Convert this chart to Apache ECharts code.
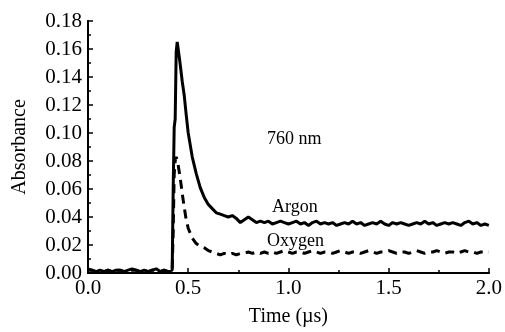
<!DOCTYPE html>
<html>
<head>
<meta charset="utf-8">
<script src="https://cdn.jsdelivr.net/npm/echarts@6/dist/echarts.min.js"></script>
<style>
  html, body { margin: 0; padding: 0; background: #fff; }
  #chart { width: 505px; height: 332px; }
</style>
</head>
<body>
<div id="chart"></div>
<script>
// time in microseconds
const timeUs = [
  0.00, 0.02, 0.04, 0.06, 0.08, 0.10, 0.12, 0.14, 0.16, 0.18, 0.20,
  0.22, 0.24, 0.26, 0.28, 0.30, 0.32, 0.34, 0.36, 0.38, 0.40, 0.42,
  0.425, 0.43, 0.435, 0.44, 0.445, 0.45,
  0.46, 0.47, 0.48, 0.49, 0.50,
  0.52, 0.54, 0.56, 0.58, 0.60, 0.62, 0.64, 0.66, 0.68, 0.70,
  0.72, 0.74, 0.76, 0.78, 0.80, 0.82, 0.84, 0.86, 0.88, 0.90,
  0.92, 0.94, 0.96, 0.98, 1.00,
  1.02, 1.04, 1.06, 1.08, 1.10, 1.12, 1.14, 1.16, 1.18, 1.20,
  1.22, 1.24, 1.26, 1.28, 1.30, 1.32, 1.34, 1.36, 1.38, 1.40,
  1.42, 1.44, 1.46, 1.48, 1.50, 1.52, 1.54, 1.56, 1.58, 1.60,
  1.62, 1.64, 1.66, 1.68, 1.70, 1.72, 1.74, 1.76, 1.78, 1.80,
  1.82, 1.84, 1.86, 1.88, 1.90, 1.92, 1.94, 1.96, 1.98, 2.00
]

const argon = [
  0.003, 0.002, 0.001, 0.002, 0.001, 0.002, 0.001, 0.002, 0.002, 0.001, 0.002,
  0.003, 0.002, 0.001, 0.002, 0.001, 0.002, 0.003, 0.001, 0.002, 0.001, 0.002,
  0.060, 0.104, 0.110, 0.158, 0.165, 0.160,
  0.149, 0.137, 0.127, 0.113, 0.100,
  0.083, 0.071, 0.061, 0.054, 0.049, 0.046, 0.043, 0.042, 0.041, 0.040,
  0.041, 0.039, 0.036, 0.038, 0.040, 0.038, 0.036, 0.037, 0.036, 0.037,
  0.035, 0.036, 0.037, 0.036, 0.035,
  0.036, 0.037, 0.035, 0.036, 0.034, 0.036, 0.037, 0.035, 0.036, 0.035,
  0.036, 0.034, 0.035, 0.036, 0.035, 0.037, 0.035, 0.036, 0.034, 0.035,
  0.036, 0.035, 0.037, 0.035, 0.034, 0.036, 0.035, 0.036, 0.035, 0.034,
  0.035, 0.036, 0.035, 0.037, 0.035, 0.036, 0.034, 0.035, 0.036, 0.035,
  0.036, 0.035, 0.034, 0.036, 0.037, 0.035, 0.036, 0.034, 0.035, 0.034
]

const oxygen = [
  0.002, 0.002, 0.001, 0.002, 0.001, 0.002, 0.001, 0.002, 0.002, 0.001, 0.002,
  0.002, 0.002, 0.001, 0.002, 0.001, 0.002, 0.002, 0.001, 0.002, 0.001, 0.002,
  0.030, 0.070, 0.080, 0.083, 0.082, 0.077,
  0.068, 0.057, 0.047, 0.038, 0.032,
  0.025, 0.021, 0.019, 0.018, 0.016, 0.015, 0.014, 0.013, 0.014, 0.013,
  0.014, 0.013, 0.014, 0.014, 0.015, 0.014, 0.015, 0.014, 0.015, 0.014,
  0.015, 0.014, 0.015, 0.016, 0.015,
  0.014, 0.015, 0.015, 0.014, 0.015, 0.016, 0.015, 0.014, 0.015, 0.015,
  0.014, 0.015, 0.016, 0.015, 0.014, 0.015, 0.015, 0.014, 0.015, 0.016,
  0.015, 0.014, 0.015, 0.015, 0.016, 0.015, 0.014, 0.015, 0.015, 0.014,
  0.015, 0.016, 0.015, 0.014, 0.015, 0.015, 0.016, 0.015, 0.014, 0.015,
  0.015, 0.014, 0.015, 0.016, 0.015, 0.015, 0.014, 0.015, 0.015, 0.015
]

const FONT = "'Liberation Serif', 'DejaVu Serif', serif"
const INK = '#000'

const pairs = (ys) => timeUs.map((t, i) => [t, ys[i]])

const chart = echarts.init(document.getElementById('chart'), null, { renderer: 'canvas' })

chart.setOption({
  animation: false,
  backgroundColor: '#fff',
  grid: { left: 88, right: 13, top: 21, bottom: 53 },
  xAxis: [
    {
      type: 'value',
      min: 0, max: 2, interval: 0.5,
      name: 'Time (\u00b5s)',
      nameLocation: 'middle',
      nameGap: 34,
      nameTextStyle: { fontFamily: FONT, fontSize: 20, color: INK },
      axisLine: { lineStyle: { color: INK, width: 2 } },
      axisTick: { inside: true, length: 5, lineStyle: { color: INK, width: 1.5 } },
      minorTick: { show: true, splitNumber: 2, length: 3, lineStyle: { color: INK, width: 1.5 } },
      axisLabel: {
        fontFamily: FONT, fontSize: 21, color: INK, margin: 5,
        formatter: (v) => v.toFixed(1)
      },
      splitLine: { show: false }
    },
    {
      type: 'value', position: 'top',
      min: 0, max: 2,
      axisLine: { lineStyle: { color: INK, width: 2 } },
      axisTick: { show: false },
      axisLabel: { show: false },
      splitLine: { show: false }
    }
  ],
  yAxis: [
    {
      type: 'value',
      min: 0, max: 0.18, interval: 0.02,
      name: 'Absorbance',
      nameLocation: 'middle',
      nameRotate: 90,
      nameGap: 58,
      nameTextStyle: { fontFamily: FONT, fontSize: 20, color: INK },
      axisLine: { lineStyle: { color: INK, width: 2 } },
      axisTick: { inside: true, length: 5, lineStyle: { color: INK, width: 1.5 } },
      minorTick: { show: true, splitNumber: 2, length: 3, lineStyle: { color: INK, width: 1.5 } },
      axisLabel: {
        fontFamily: FONT, fontSize: 21, color: INK, margin: 6,
        formatter: (v) => v.toFixed(2)
      },
      splitLine: { show: false }
    },
    {
      type: 'value', position: 'right',
      min: 0, max: 0.18,
      axisLine: { show: true, lineStyle: { color: INK, width: 2 } },
      axisTick: { show: false },
      axisLabel: { show: false },
      splitLine: { show: false }
    }
  ],
  graphic: [
    { type: 'text', left: 267, top: 130, style: { text: '760 nm', font: `18px ${FONT}`, fill: INK } },
    { type: 'text', left: 272, top: 198, style: { text: 'Argon', font: `18px ${FONT}`, fill: INK } },
    { type: 'text', left: 267, top: 232, style: { text: 'Oxygen', font: `18px ${FONT}`, fill: INK } }
  ],
  series: [
    {
      name: 'Oxygen',
      type: 'line',
      data: pairs(oxygen),
      showSymbol: false,
      lineStyle: { color: INK, width: 3, type: [9, 6] }
    },
    {
      name: 'Argon',
      type: 'line',
      data: pairs(argon),
      showSymbol: false,
      lineStyle: { color: INK, width: 3 }
    }
  ]
})
</script>
</body>
</html>
